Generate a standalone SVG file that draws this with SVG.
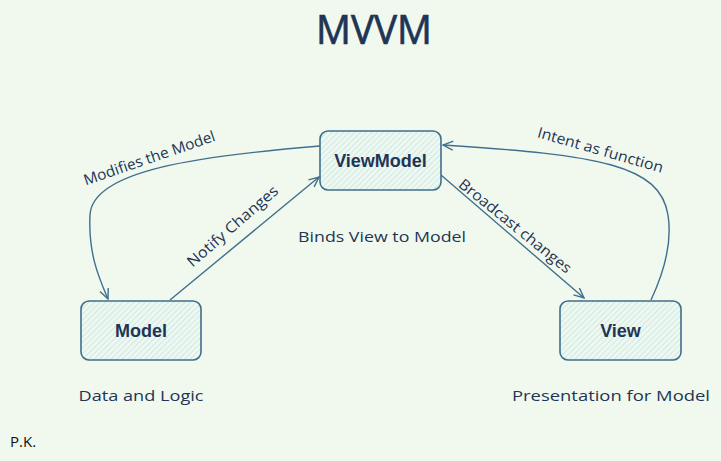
<svg xmlns="http://www.w3.org/2000/svg" width="721" height="461" viewBox="0 0 721 461">
<style>
.box{fill:url(#hatch);stroke:#3f6f8c;stroke-width:1.6}
.bl{font-family:"Liberation Sans",Arial,sans-serif;font-weight:bold;font-size:18px;fill:#1e3555;text-anchor:middle}
.lbl{font-family:"Open Sans","Liberation Sans",sans-serif;font-size:15px;fill:#1e3555;text-anchor:middle}
.con{fill:none;stroke:#3f6f8c;stroke-width:1.4}
</style>
<defs>
<pattern id="hatch" patternUnits="userSpaceOnUse" width="4" height="4" patternTransform="rotate(45)">
<rect width="4" height="4" fill="#eef8f2"/>
<line x1="0" y1="0" x2="0" y2="4" stroke="#b4dbcc" stroke-width="1"/>
</pattern>
<marker id="arr" viewBox="0 0 12 12" refX="11" refY="6" markerWidth="12" markerHeight="12" markerUnits="userSpaceOnUse" orient="auto">
<path d="M1,1.5 L11,6 L1,10.5" fill="none" stroke="#3f6f8c" stroke-width="1.4"/>
</marker>
</defs>
<rect width="721" height="461" fill="#f1f9ef"/>
<text x="374" y="44" font-family="Open Sans,Liberation Sans,sans-serif" font-size="40" fill="#1e3555" stroke="#1e3555" stroke-width="0.7" text-anchor="middle" textLength="116" lengthAdjust="spacingAndGlyphs">MVVM</text>
<g id="connectors">
<path class="con" d="M320,146 C200,156 92,170 90,215 C88,255 100,280 108,299" marker-end="url(#arr)"/>
<path class="con" d="M170,300 L319,177" marker-end="url(#arr)"/>
<path class="con" d="M441,175 L584,298" marker-end="url(#arr)"/>
<path class="con" d="M651,300 C665,270 672,240 668,215 C660,165 600,155 443,145" marker-end="url(#arr)"/>
<text class="lbl" transform="translate(151,163) rotate(-19)" textLength="138" lengthAdjust="spacingAndGlyphs">Modifies the Model</text>
<text class="lbl" transform="translate(236,230) rotate(-41)" textLength="115" lengthAdjust="spacingAndGlyphs">Notify Changes</text>
<text class="lbl" transform="translate(512,230) rotate(39)" textLength="140" lengthAdjust="spacingAndGlyphs">Broadcast changes</text>
<text class="lbl" transform="translate(599,155) rotate(16)" textLength="130" lengthAdjust="spacingAndGlyphs">Intent as function</text>
</g>
<g id="viewmodel">
<rect class="box" x="320" y="131" width="121" height="59" rx="8"/>
<text class="bl" x="380.5" y="167">ViewModel</text>
</g>
<g id="model">
<rect class="box" x="81" y="301" width="120" height="59" rx="8"/>
<text class="bl" x="141" y="337">Model</text>
</g>
<g id="view">
<rect class="box" x="560" y="301" width="121" height="59" rx="8"/>
<text class="bl" x="620.5" y="337">View</text>
</g>
<text class="lbl" x="382" y="242" textLength="168" lengthAdjust="spacingAndGlyphs">Binds View to Model</text>
<text class="lbl" x="141" y="401" textLength="125" lengthAdjust="spacingAndGlyphs">Data and Logic</text>
<text class="lbl" x="611" y="401" textLength="198" lengthAdjust="spacingAndGlyphs">Presentation for Model</text>
<text x="10" y="447" font-family="Open Sans,Liberation Sans,sans-serif" font-size="15" fill="#111">P.K.</text>
</svg>
